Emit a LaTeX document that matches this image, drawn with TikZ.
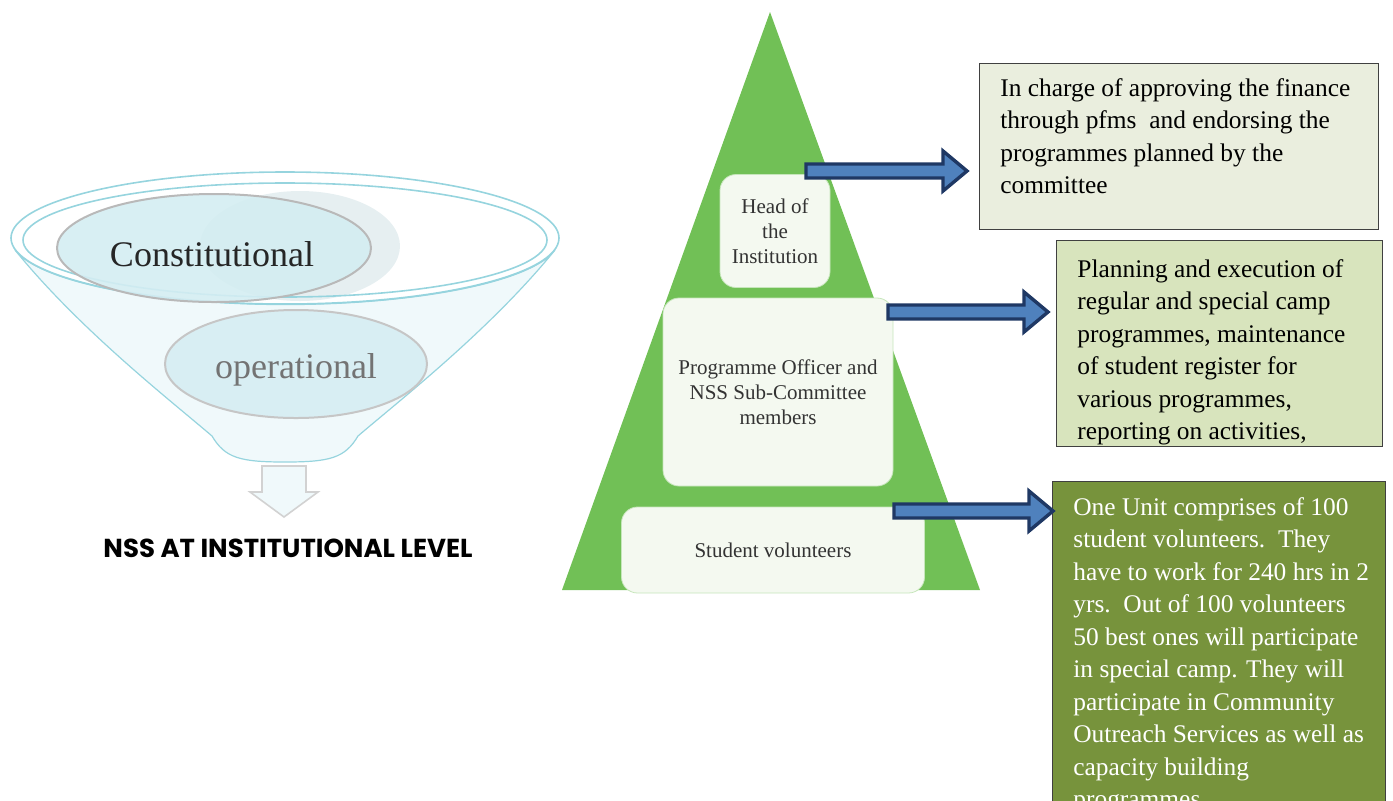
\documentclass[tikz,border=0pt]{standalone}
\usepackage{fontspec}
\setmainfont{Liberation Serif}
\newfontfamily\capfont{Poppins}
\usetikzlibrary{calc}

\definecolor{funnelline}{RGB}{150,212,222}
\definecolor{funnelfill}{RGB}{240,249,251}
\definecolor{tiercyan}{RGB}{212,237,242}
\definecolor{tiershade}{RGB}{230,239,241}
\definecolor{pyrgreen}{RGB}{113,192,86}
\definecolor{tierwhite}{RGB}{244,249,240}
\definecolor{arrowblue}{RGB}{79,129,189}
\definecolor{arrownavy}{RGB}{31,56,100}
\definecolor{hoifill}{RGB}{234,238,222}
\definecolor{pofill}{RGB}{216,228,189}
\definecolor{svfill}{RGB}{119,147,60}

% block arrow from #1 to #2
\newcommand\blockarrow[2]{%
  \draw[bluearrow] ($(#1)+(0,-7)$) -- ($(#2)+(-24,-7)$) -- ($(#2)+(-24,-20)$)
    -- (#2) -- ($(#2)+(-24,20)$) -- ($(#2)+(-24,7)$) -- ($(#1)+(0,7)$) -- cycle;}

\begin{document}
\begin{tikzpicture}[x=0.5pt,y=-0.5pt,
    ring/.style={draw=funnelline, line width=0.8pt},
    levelbox/.style={fill=tierwhite, draw=pyrgreen!40, rounded corners=8pt, align=center,
        font=\fontsize{10.5}{12.5}\selectfont, text=black!80},
    bluearrow/.style={fill=arrowblue, draw=arrownavy, line width=1.7pt, line join=miter},
    descbox/.style={draw=black!75, line width=0.6pt, anchor=north west, inner sep=0pt},
    desctext/.style={anchor=north west, align=left, inner sep=0pt,
        font=\fontsize{12.7}{16.25}\selectfont}]
  \useasboundingbox (0,0) rectangle (1393,800);

  % funnel
  \draw[fill=funnelfill, draw=funnelline, line width=0.6pt]
    (15,250) .. controls (80,330) and (170,400) .. (212,436)
    .. controls (225,458) and (240,462) .. (285,462)
    .. controls (330,462) and (345,458) .. (358,436)
    .. controls (400,400) and (490,330) .. (555,250)
    arc [start angle=10, end angle=170, x radius=274, y radius=66];
  \fill[tiershade] (300,246) ellipse [x radius=100, y radius=55];
  \draw[ring] (285,238) ellipse [x radius=274, y radius=66];
  \draw[ring] (285,240) ellipse [x radius=262, y radius=57];
  \draw[fill=tiercyan, fill opacity=0.9, draw=gray!55, line width=1pt]
    (214,248) ellipse [x radius=157, y radius=54];
  \node[font=\fontsize{18}{20}\selectfont, text=black!85] (const) at (212,254) {Constitutional};
  \draw[fill=tiercyan, fill opacity=0.85, draw=gray!45, line width=1pt]
    (296,364) ellipse [x radius=131, y radius=54];
  \node[font=\fontsize{18}{20}\selectfont, text=black!55] (oper) at (296,370) {operational};
  \draw[fill=funnelfill, draw=gray!35, line width=0.8pt]
    (262,466) -- (306,466) -- (306,492) -- (318,492) -- (284,517)
    -- (250,492) -- (262,492) -- cycle;
  \node[font=\capfont\bfseries\fontsize{13}{15}\selectfont] (nss) at (288,548)
    {NSS AT INSTITUTIONAL LEVEL};

  % pyramid
  \fill[pyrgreen] (770,12) -- (980,590) -- (562,590) -- cycle;
  \node[levelbox, minimum width=55pt, minimum height=56.5pt] (hoi) at (775,231)
    {Head of\\the\\Institution};
  \node[levelbox, minimum width=115pt, minimum height=94pt] (po) at (778,392)
    {Programme Officer and\\NSS Sub-Committee\\members};
  \node[levelbox, minimum width=151.5pt, minimum height=43pt] (sv) at (773,550)
    {Student volunteers};

  % descriptions
  \node[descbox, fill=hoifill, minimum width=199.5pt, minimum height=83pt] (hoibox) at (979,63) {};
  \node[desctext] (hoitext) at (1000,78)
    {In charge of approving the finance\\through pfms\ \ and endorsing the\\programmes planned by the\\committee};
  \node[descbox, fill=pofill, minimum width=163pt, minimum height=103pt] (pobox) at (1056,240) {};
  \begin{scope}
    \path[clip] (pobox.south west) rectangle (pobox.north east);
    \node[desctext] (potext) at (1077,259)
      {Planning and execution of\\regular and special camp\\programmes, maintenance\\of student register for\\various programmes,\\reporting on activities,};
  \end{scope}
  \node[descbox, fill=svfill, minimum width=166.5pt, minimum height=170pt] (svbox) at (1052,481) {};
  \node[desctext, text=white] (svtext) at (1073,497)
    {One Unit comprises of 100\\student volunteers.\ \ They\\have to work for 240 hrs in 2\\yrs.\ \ Out of 100 volunteers\\50 best ones will participate\\in special camp. They will\\participate in Community\\Outreach Services as well as\\capacity building\\programmes};

  % arrows
  \coordinate (hoi-out) at (806,171);
  \coordinate (hoi-in) at (967,171);
  \coordinate (po-out) at (888,312);
  \coordinate (po-in) at (1048,312);
  \coordinate (sv-out) at (894,511);
  \coordinate (sv-in) at (1053,511);
  \blockarrow{hoi-out}{hoi-in}
  \blockarrow{po-out}{po-in}
  \blockarrow{sv-out}{sv-in}
\end{tikzpicture}
\end{document}
